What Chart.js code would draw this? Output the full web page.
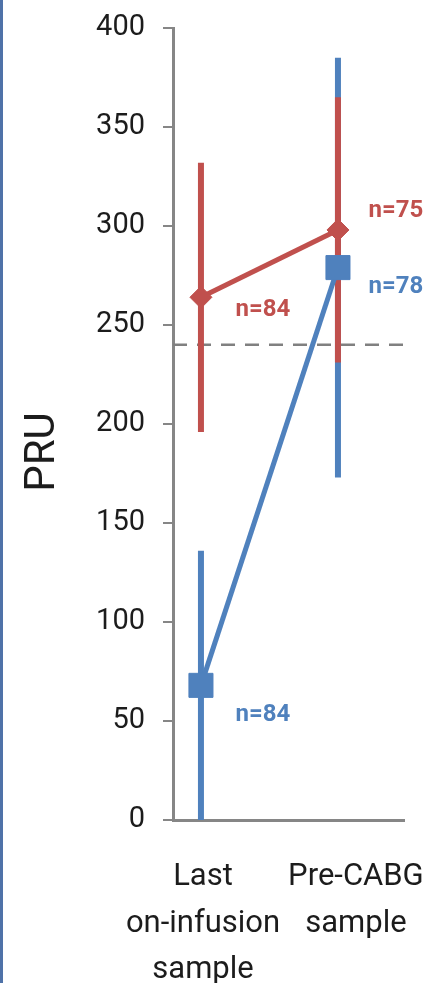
<!DOCTYPE html>
<html>
<head>
<meta charset="utf-8">
<script src="https://cdn.jsdelivr.net/npm/chart.js@4"></script>
<style>
  html, body { margin: 0; padding: 0; background: #fff; }
  #wrap { position: relative; width: 429px; height: 983px; }
  #edge { position: absolute; left: 0; top: 0; width: 3px; height: 983px; background: #4f72a8; }
</style>
</head>
<body>
<div id="wrap">
  <canvas id="c" width="429" height="983"></canvas>
  <div id="edge"></div>
</div>
<script>
// ---- data ----
const categories = [["Last", "on-infusion", "sample"], ["Pre-CABG", "sample"]];
const blueMeans = [68, 279];
const blueErrs  = [68, 106];
const blueN     = ["n=84", "n=78"];
const redMeans  = [264, 298];
const redErrs   = [68, 67];
const redN      = ["n=84", "n=75"];
const threshold = 240;
const yTicks    = [0, 50, 100, 150, 200, 250, 300, 350, 400];
const yTitle    = "PRU";

// ---- styles ----
const BLUE = "#4f81bd", RED = "#c0504d", AXIS = "#868686", TEXT = "#1c1c1c";
const X_MIN = 0.796, X_MAX = 2.482;
const labelShift = [0.015, 0.131];

function errorBarSets(means, errs, color, order) {
  return means.map((m, i) => ({
    type: "line",
    data: [{x: i + 1, y: m - errs[i]}, {x: i + 1, y: m + errs[i]}],
    borderColor: color, borderWidth: 6, borderCapStyle: "butt",
    pointRadius: 0, order: order, clip: false
  }));
}

const datasets = [
  {
    label: "red", data: redMeans.map((v, i) => ({x: i + 1, y: v})),
    borderColor: RED, backgroundColor: RED, borderWidth: 5,
    pointStyle: "rectRot", pointRadius: 11, pointBorderWidth: 1, order: 1, nLabels: redN,
    nOffsets: [[62, 13], [58, -19]]
  },
  {
    label: "blue", data: blueMeans.map((v, i) => ({x: i + 1, y: v})),
    borderColor: BLUE, backgroundColor: BLUE, borderWidth: 5,
    pointStyle: "rect", pointRadius: 17, pointBorderWidth: 1, order: 2, nLabels: blueN,
    nOffsets: [[62, 30], [58, 19]]
  },
  ...errorBarSets(redMeans, redErrs, RED, 3),
  ...errorBarSets(blueMeans, blueErrs, BLUE, 4),
  {
    label: "threshold", data: [{x: X_MIN, y: threshold}, {x: 2.54, y: threshold}],
    borderColor: "#808080", borderWidth: 2.5, borderDash: [14, 10],
    pointRadius: 0, order: 5, clip: false
  }
];

const annotate = {
  id: "annotate",
  afterDatasetsDraw(chart) {
    const ctx = chart.ctx;
    ctx.save();
    ctx.font = "bold 24px Roboto";
    ctx.textAlign = "center";
    ctx.textBaseline = "middle";
    chart.data.datasets.forEach((ds, di) => {
      if (!ds.nLabels) return;
      const meta = chart.getDatasetMeta(di);
      meta.data.forEach((pt, i) => {
        ctx.fillStyle = ds.borderColor;
        ctx.fillText(ds.nLabels[i], pt.x + ds.nOffsets[i][0], pt.y + ds.nOffsets[i][1]);
      });
    });
    // y-axis title
    ctx.font = "42px Roboto";
    ctx.fillStyle = TEXT;
    ctx.translate(43, 452);
    ctx.rotate(-Math.PI / 2);
    ctx.fillText(yTitle, 0, 0);
    ctx.restore();
  }
};

function noPad(s) { s.paddingLeft = 0; s.paddingRight = 0; s.paddingTop = 0; s.paddingBottom = 0; }

new Chart(document.getElementById("c"), {
  type: "line",
  data: { datasets },
  plugins: [annotate],
  options: {
    responsive: false, animation: false, devicePixelRatio: 1,
    layout: { padding: { top: 28, right: 25, left: 0, bottom: 0 } },
    plugins: { legend: { display: false }, tooltip: { enabled: false } },
    scales: {
      x: {
        type: "linear", position: "bottom", min: X_MIN, max: X_MAX,
        grid: { display: false, drawTicks: false },
        border: { display: true, color: AXIS, width: 3 },
        afterBuildTicks: (s) => { s.ticks = categories.map((c, i) => ({ value: i + 1 + labelShift[i] })); },
        afterFit: (s) => { s.height = 163; noPad(s); },
        ticks: {
          autoSkip: false, maxRotation: 0, padding: 34, color: TEXT,
          font: { family: "Roboto", size: 31, lineHeight: 1.5 },
          callback: (v, i) => categories[i]
        }
      },
      y: {
        min: 0, max: 400,
        afterBuildTicks: (s) => { s.ticks = yTicks.map(v => ({ value: v })); },
        afterFit: (s) => { s.width = 173; noPad(s); },
        grid: { drawOnChartArea: false, drawTicks: true, tickLength: 10, color: AXIS, lineWidth: 2 },
        border: { display: true, color: AXIS, width: 3 },
        ticks: { padding: 18, color: TEXT, font: { family: "Roboto", size: 29 } }
      }
    }
  }
});
</script>
</body>
</html>
